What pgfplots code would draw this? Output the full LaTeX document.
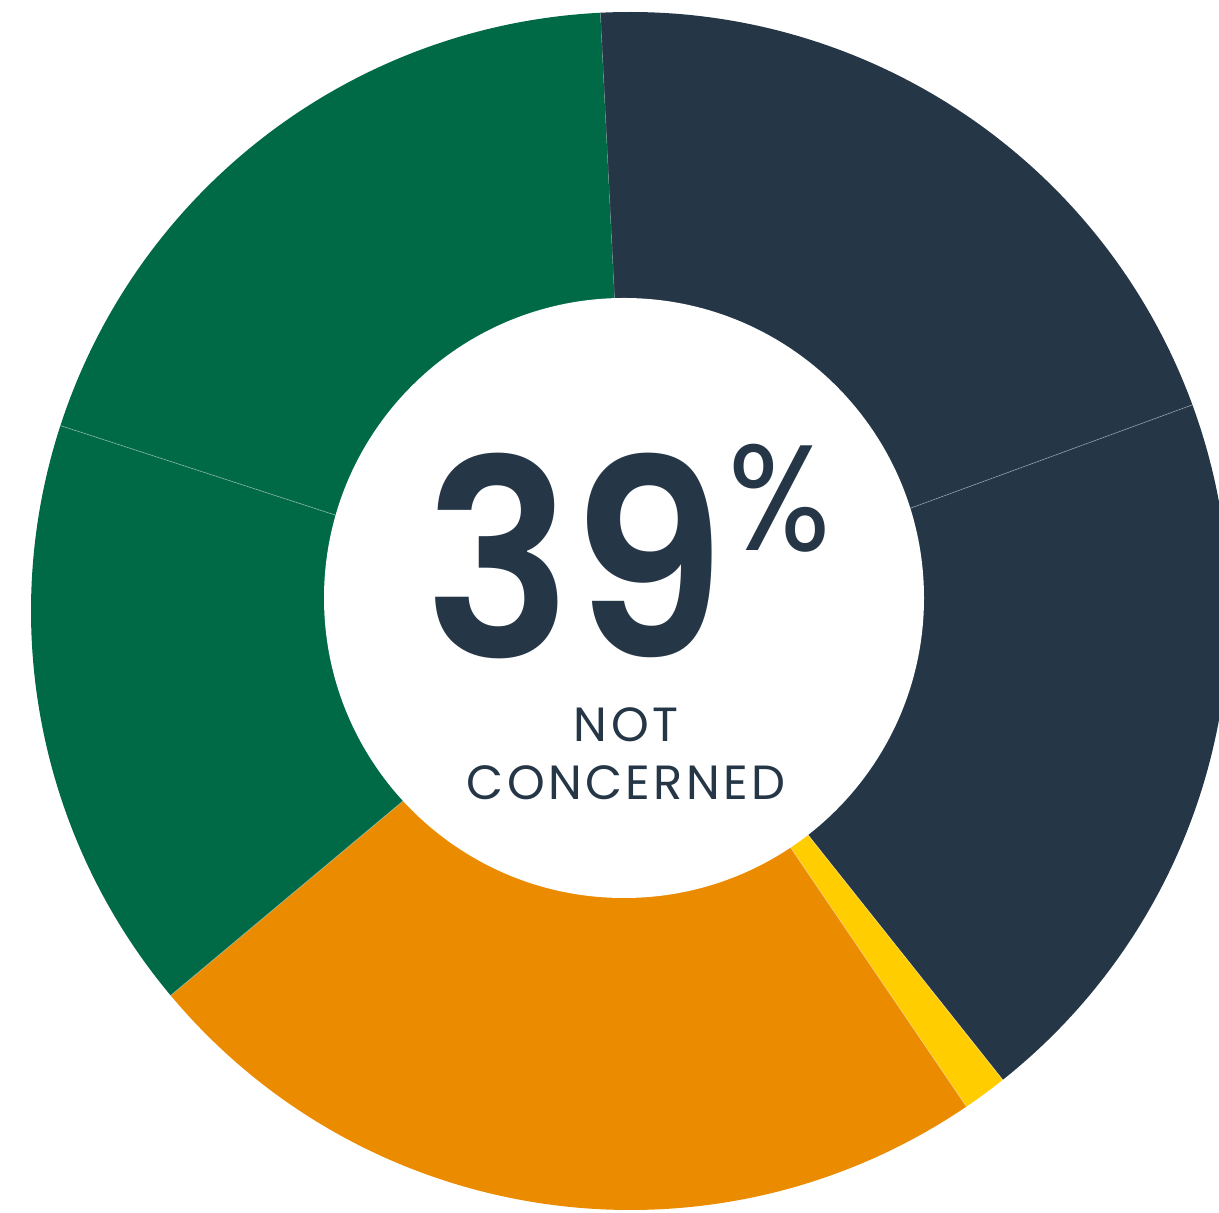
\documentclass[border=0pt]{standalone}
\usepackage{pgfplots}
\pgfplotsset{compat=1.18}
\usepackage{pgfplotstable}
\usepackage{fontspec}
\setmainfont{Poppins}
\newfontfamily\spaced[LetterSpace=7]{Poppins}
\newfontfamily\medium{Poppins SemiBold}
\definecolor{navyc}{HTML}{253647}
\definecolor{greenc}{HTML}{006946}
\definecolor{orangec}{HTML}{EB8B00}
\definecolor{yellowc}{HTML}{FFCD00}
\pgfplotstableread{
value col
20.2 navyc
19.9 navyc
1.2 yellowc
23.4 orangec
16.1 greenc
19.2 greenc
}\slices
\begin{document}
\begin{tikzpicture}
\begin{axis}[width=1219pt,height=1213pt,scale only axis,
  xmin=0,xmax=1219,ymin=0,ymax=1213,hide axis,clip=true]
\pgfmathsetmacro\cur{92.85}
\pgfplotsforeachungrouped \i in {0,...,5}{%
  \pgfplotstablegetelem{\i}{value}\of\slices \let\v=\pgfplotsretval
  \pgfplotstablegetelem{\i}{col}\of\slices \let\c=\pgfplotsretval
  \pgfmathsetmacro\nxt{\cur-3.6*\v}%
  \edef\temp{\noexpand\fill[\c] (axis cs:630,602) -- ++(\cur:599pt) arc[start angle=\cur, end angle=\nxt, radius=599pt] -- cycle;
  \noexpand\draw[white, opacity=0.35, line width=0.8pt] (axis cs:630,602) -- ++(\cur:599pt);}%
  \temp
  \global\let\cur\nxt
}
\fill[white] (axis cs:624,615) circle[radius=300pt];
\node[anchor=base west, text=navyc, inner sep=0pt, xscale=0.9] at (axis cs:424,555)
  {\medium\fontsize{274}{274}\selectfont 39\hspace{2pt}\raisebox{107pt}{\rmfamily\fontsize{150}{150}\selectfont\%}};
\node[anchor=base, text=navyc, inner sep=0pt, align=center,
  font=\spaced\fontsize{48}{58}\selectfont] at (axis cs:626,413) {NOT\\CONCERNED};
\end{axis}
\end{tikzpicture}
\end{document}
